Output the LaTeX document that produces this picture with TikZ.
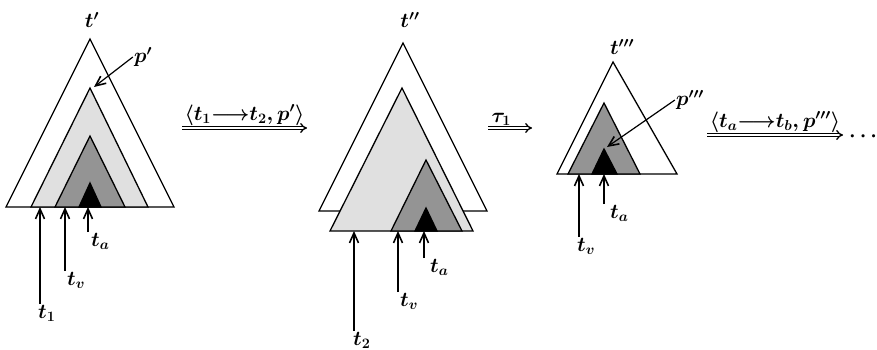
\documentclass[tikz,border=0pt]{standalone}
\usetikzlibrary{arrows.meta}

\tikzset{
  lab/.style={font=\huge\boldmath, inner sep=1pt},
  tri/.style={draw, line width=1.3pt, line join=miter},
  hollow/.style={tri, fill=white},
  pale/.style={tri, fill=black!12},
  dense/.style={tri, fill=black!42},
  core/.style={tri, fill=black},
  up/.style={line width=1.2pt, -{Straight Barb[length=10pt,width=9pt,line width=1.6pt]}},
  imp/.style={double, double distance=2pt, line width=1.3pt, -{Implies[length=8pt]}},
}
\newcommand{\yields}{\mathord{\longrightarrow}}

\begin{document}
\begin{tikzpicture}[x=1pt, y=-1pt]

  %% ════ t' ════
  \coordinate (A1) at (90,39);
  \coordinate (P1) at (94,87);
  \filldraw[hollow] (6,207) -- (A1) -- (174,207) -- cycle;
  \filldraw[pale] (31,207) -- (90,88) -- (148,207) -- cycle;
  \filldraw[dense] (55,207) -- (90,136) -- (125,207) -- cycle;
  \filldraw[core] (79,207) -- (90,183) -- (101,207) -- cycle;
  \coordinate (b11) at (40,207);
  \coordinate (b12) at (65,207);
  \coordinate (b13) at (88,207);

  \node[lab] (tp) at (92,20) {$t'$};
  \node[lab] (pp) at (143,57) {$p'$};
  \node[lab, anchor=north west] (l11) at (37,304) {$t_1$};
  \node[lab, anchor=north west] (l12) at (66,271) {$t_v$};
  \node[lab, anchor=north west] (l13) at (90,232) {$t_a$};
  \draw[up] (pp.west) -- (P1);
  \draw[up] (b11 |- l11.north) -- (b11);
  \draw[up] (b12 |- l12.north) -- (b12);
  \draw[up] (b13 |- l13.north) -- (b13);

  %% ════ t'' ════
  \filldraw[hollow] (319,211) -- (403,43) -- (487,211) -- cycle;
  \filldraw[pale] (330,231) -- (402,88) -- (473,231) -- cycle;
  \filldraw[dense] (391,231) -- (426,160) -- (462,231) -- cycle;
  \filldraw[core] (415,231) -- (426,208) -- (437,231) -- cycle;
  \coordinate (b21) at (354,231);
  \coordinate (b22) at (398,231);
  \coordinate (b23) at (424,231);

  \node[lab] (tpp) at (410,20) {$t''$};
  \node[lab, anchor=north west] (l21) at (352,331) {$t_2$};
  \node[lab, anchor=north west] (l22) at (399,292) {$t_v$};
  \node[lab, anchor=north west] (l23) at (429,258) {$t_a$};
  \draw[up] (b21 |- l21.north) -- (b21);
  \draw[up] (b22 |- l22.north) -- (b22);
  \draw[up] (b23 |- l23.north) -- (b23);

  %% ════ t''' ════
  \coordinate (P3) at (607,147);
  \filldraw[hollow] (557,174) -- (613,62) -- (677,174) -- cycle;
  \filldraw[dense] (568,174) -- (604,103) -- (640,174) -- cycle;
  \filldraw[core] (592,174) -- (604,149) -- (617,174) -- cycle;
  \coordinate (b31) at (579,174);
  \coordinate (b32) at (604,174);

  \node[lab] (tppp) at (622,47) {$t'''$};
  \node[lab] (ppp) at (690,100) {$p'''$};
  \node[lab, anchor=north west] (l31) at (576,237) {$t_v$};
  \node[lab, anchor=north west] (l32) at (609,204) {$t_a$};
  \draw[up] (ppp.west) -- (P3);
  \draw[up] (b31 |- l31.north) -- (b31);
  \draw[up] (b32 |- l32.north) -- (b32);

  %% ════ 推导箭头 ════
  \coordinate (s1) at (182,128);
  \coordinate (e1) at (307,128);
  \coordinate (s2) at (488,128);
  \coordinate (e2) at (532,128);
  \coordinate (s3) at (707,135);
  \coordinate (e3) at (843,135);
  \draw[imp] (s1) -- node[lab, above=1pt] (r1) {$\langle t_1\yields t_2, p'\rangle$} (e1);
  \draw[imp] (s2) -- node[lab, above=1pt, pos=.3] (r2) {$\tau_1$} (e2);
  \draw[imp] (s3) -- node[lab, above=1pt] (r3) {$\langle t_a\yields t_b, p'''\rangle$} (e3);
  \node[lab, inner sep=0pt, anchor=base west] (more) at (849,141) {$\cdots$};

  \pgfresetboundingbox
  \path[use as bounding box] (0,0) rectangle (877,350);
\end{tikzpicture}
\end{document}
